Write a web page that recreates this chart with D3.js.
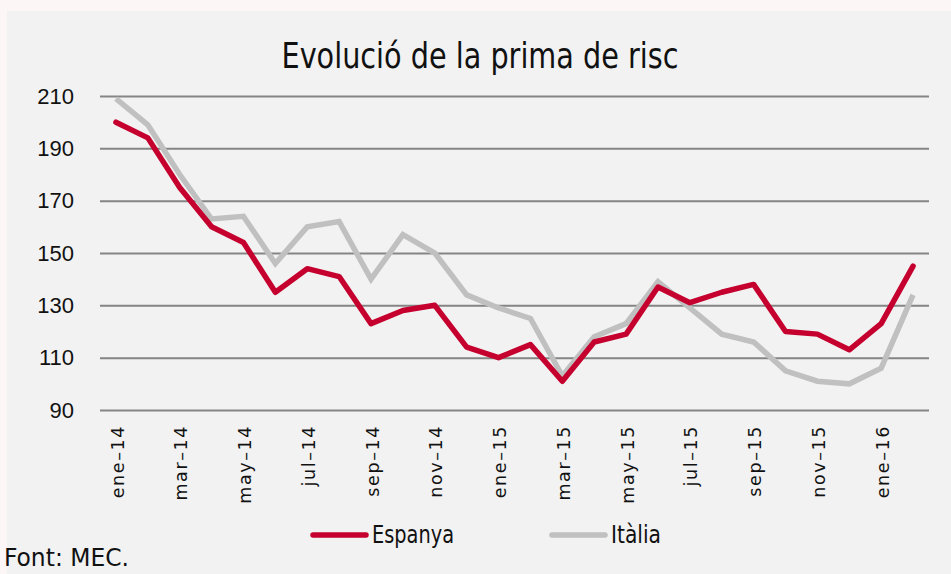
<!DOCTYPE html>
<html>
<head>
<meta charset="utf-8">
<script src="https://cdn.jsdelivr.net/npm/d3@7"></script>
<style>
  body { margin: 0; background: #fdf6f6; }
  .narrow { font-family: "Liberation Sans Narrow", "DejaVu Sans Condensed", "Liberation Sans", sans-serif; }
</style>
</head>
<body>
<div class="chart"></div>
<script>
let FRAME_WIDTH = 951;
let FRAME_HEIGHT = 574;
let MARGINS = {left: 100, right: 22, top: 96, bottom: 164};

// data
let months = ["ene-14", "feb-14", "mar-14", "abr-14", "may-14", "jun-14", "jul-14", "ago-14",
              "sep-14", "oct-14", "nov-14", "dic-14", "ene-15", "feb-15", "mar-15", "abr-15",
              "may-15", "jun-15", "jul-15", "ago-15", "sep-15", "oct-15", "nov-15", "dic-15",
              "ene-16", "feb-16"];
let espanya = [200, 194, 175, 160, 154, 135, 144, 141, 123, 128, 130, 114, 110, 115, 101, 116,
               119, 137, 131, 135, 138, 120, 119, 113, 123, 145];
let italia = [209, 199, 180, 163, 164, 146, 160, 162, 140, 157, 150, 134, 129, 125, 103, 118,
              123, 139, 129, 119, 116, 105, 101, 100, 106, 134];
let yTicks = [90, 110, 130, 150, 170, 190, 210];
let tickMonths = months.filter((d, i) => i % 2 === 0 && i < 25);

let FRAME = d3.select(".chart")
              .append("svg")
              .attr("width", FRAME_WIDTH)
              .attr("height", FRAME_HEIGHT);

// grey panel
FRAME.append("rect")
     .attr("x", 7).attr("y", 11)
     .attr("width", FRAME_WIDTH - 7).attr("height", FRAME_HEIGHT - 11)
     .attr("fill", "#f2f2f2");

const X_SCALE = d3.scalePoint()
                  .domain(months)
                  .range([MARGINS.left, FRAME_WIDTH - MARGINS.right])
                  .padding(0.5);

const Y_SCALE = d3.scaleLinear()
                  .domain([90, 210])
                  .range([FRAME_HEIGHT - MARGINS.bottom, MARGINS.top]);

// title (condensed look via textLength)
FRAME.append("text")
     .attr("class", "narrow")
     .attr("x", 480).attr("y", 68)
     .attr("text-anchor", "middle")
     .attr("font-size", "36px")
     .attr("textLength", 397)
     .attr("lengthAdjust", "spacingAndGlyphs")
     .attr("fill", "#111")
     .text("Evolució de la prima de risc");

// y axis with gridlines
let yAxis = FRAME.append("g")
     .attr("transform", "translate(" + MARGINS.left + ",0)")
     .call(d3.axisLeft(Y_SCALE).tickValues(yTicks)
             .tickSize(-(FRAME_WIDTH - MARGINS.left - MARGINS.right))
             .tickPadding(26));
yAxis.select(".domain").remove();
yAxis.selectAll("line").attr("stroke", "#858585").attr("stroke-width", 2);
yAxis.selectAll("text")
     .attr("font-family", "'Liberation Sans', Arial, sans-serif")
     .attr("font-size", "22px")
     .attr("fill", "#111");

// x axis, labels every two months
let xAxis = FRAME.append("g")
     .attr("transform", "translate(0," + (FRAME_HEIGHT - MARGINS.bottom) + ")")
     .call(d3.axisBottom(X_SCALE).tickValues(tickMonths).tickSize(0).tickPadding(0));
xAxis.select(".domain").remove();
xAxis.selectAll("text")
     .attr("font-family", "'DejaVu Sans', Verdana, sans-serif")
     .attr("font-size", "17.5px")
     .attr("letter-spacing", "1.6px")
     .attr("fill", "#111")
     .attr("text-anchor", "end")
     .attr("dy", "0.35em")
     .attr("transform", "translate(1,15) rotate(-90)")
     .text((d) => d.replace("-", "\u2013"));

// lines
let line = d3.line()
             .x((d, i) => X_SCALE(months[i]))
             .y((d) => Y_SCALE(d));

FRAME.append("path")
     .datum(italia)
     .attr("d", line)
     .attr("fill", "none")
     .attr("stroke", "#c0c0c0")
     .attr("stroke-width", 5.5);

FRAME.append("path")
     .datum(espanya)
     .attr("d", line)
     .attr("fill", "none")
     .attr("stroke", "#c5002e")
     .attr("stroke-width", 5.5)
     .attr("stroke-linecap", "round")
     .attr("stroke-linejoin", "round");

// legend
let legendItems = [{name: "Espanya", color: "#c5002e", x: 313, w: 82},
                   {name: "Itàlia", color: "#c0c0c0", x: 552, w: 50}];
let legend = FRAME.selectAll(".legend")
                  .data(legendItems)
                  .enter()
                  .append("g")
                  .attr("transform", (d) => "translate(" + d.x + ",535)");
legend.append("line")
      .attr("x1", 0).attr("x2", 53)
      .attr("stroke", (d) => d.color)
      .attr("stroke-width", 5.5)
      .attr("stroke-linecap", "round");
legend.append("text")
      .attr("class", "narrow")
      .attr("x", 59).attr("y", 8)
      .attr("font-size", "25px")
      .attr("textLength", (d) => d.w)
      .attr("lengthAdjust", "spacingAndGlyphs")
      .attr("fill", "#111")
      .text((d) => d.name);

// source note
FRAME.append("text")
     .attr("class", "narrow")
     .attr("x", 4).attr("y", 566)
     .attr("font-size", "25px")
     .attr("textLength", 125)
     .attr("lengthAdjust", "spacingAndGlyphs")
     .attr("fill", "#111")
     .text("Font: MEC.");
</script>
</body>
</html>
